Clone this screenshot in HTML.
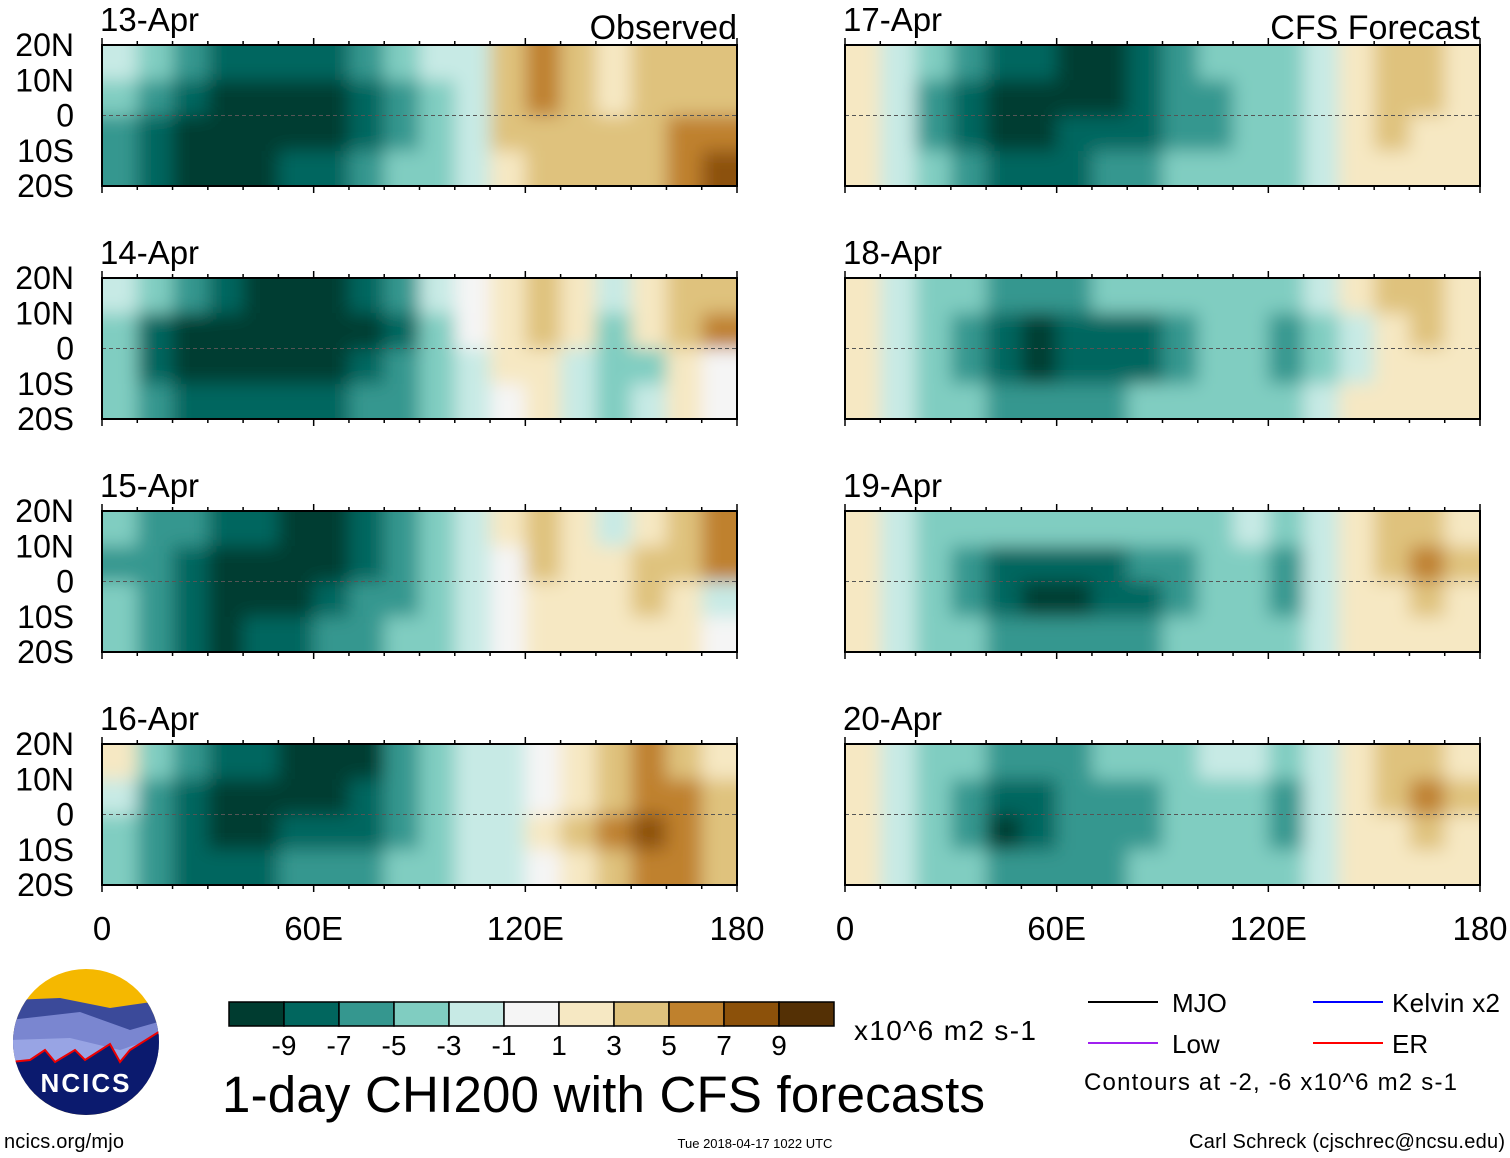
<!DOCTYPE html>
<html><head><meta charset="utf-8"><style>
html,body{margin:0;padding:0;background:#fff;}
svg{display:block;font-family:"Liberation Sans",Arial,sans-serif;}
</style></head><body>
<svg id="chart" width="1510" height="1158" viewBox="0 0 1510 1158" xmlns="http://www.w3.org/2000/svg">
<defs>
<filter id="blur" x="-10%" y="-30%" width="120%" height="160%"><feGaussianBlur stdDeviation="9"/></filter>
</defs>
<g id="panels"></g>

<g id="colorbar"></g>
<text x="854" y="1040" font-size="28" textLength="182">x10^6 m2 s-1</text>
<text x="222" y="1112" font-size="51" textLength="763">1-day CHI200 with CFS forecasts</text>

<g font-size="26">
<line x1="1088" y1="1002" x2="1158" y2="1002" stroke="#000" stroke-width="2"/>
<text x="1172" y="1012">MJO</text>
<line x1="1313" y1="1002" x2="1383" y2="1002" stroke="#0000ff" stroke-width="2"/>
<text x="1392" y="1012" textLength="108">Kelvin x2</text>
<line x1="1088" y1="1043" x2="1158" y2="1043" stroke="#a020f0" stroke-width="2"/>
<text x="1172" y="1053">Low</text>
<line x1="1313" y1="1043" x2="1383" y2="1043" stroke="#ff0000" stroke-width="2"/>
<text x="1392" y="1053">ER</text>
<text x="1084" y="1090" font-size="24" textLength="373">Contours at -2, -6 x10^6 m2 s-1</text>
</g>

<g>
<clipPath id="lc"><circle cx="86" cy="1042" r="73"/></clipPath>
<g clip-path="url(#lc)">
<rect x="10" y="965" width="155" height="160" fill="#f5b800"/>
<path d="M10 1000 L60 998 L110 1008 L165 1000 L165 1040 L10 1050Z" fill="#3b4a9a"/>
<path d="M10 1020 L80 1012 L130 1030 L165 1020 L165 1070 L10 1080Z" fill="#7a86d0"/>
<path d="M10 1040 L70 1038 L120 1050 L165 1035 L165 1090 L10 1090Z" fill="#98a4e4"/>
<path d="M10 1062 L30 1060 L45 1050 L55 1062 L75 1050 L85 1060 L110 1044 L120 1062 L130 1050 L165 1028 L165 1125 L10 1125Z" fill="#0b1a6e" stroke="#e00" stroke-width="2"/>
</g>
<text x="86" y="1092" font-size="26" font-weight="bold" fill="#fff" text-anchor="middle" letter-spacing="2">NCICS</text>
</g>

<text x="4" y="1148" font-size="20" textLength="120">ncics.org/mjo</text>
<text x="755" y="1148" font-size="13" text-anchor="middle">Tue 2018-04-17 1022 UTC</text>
<text x="1505" y="1148" font-size="20" text-anchor="end" textLength="316">Carl Schreck (cjschrec@ncsu.edu)</text>
</svg>
<script>
const dates = ["13-Apr","14-Apr","15-Apr","16-Apr","17-Apr","18-Apr","19-Apr","20-Apr"];
const latTicks = ["20N","10N","0","10S","20S"];
const lonTicks = ["0","60E","120E","180"];
const lonTickVals = [0,60,120,180];
const levelColors = ["#003c30","#01665e","#35978f","#80cdc1","#c7eae5","#f5f5f5","#f6e8c3","#dfc27d","#bf812d","#8c510a","#543005"];
const levelLabels = ["-9","-7","-5","-3","-1","1","3","5","7","9"];
// field values: per panel 4 lat bands (20N-10N,10N-0,0-10S,10S-20S) x 18 lon bins of 10 deg
const f13 = [[-1,-3,-5,-7,-7,-7,-7,-5,-3,-1,-1,2,4,3,1,2,2,2],[-3,-5,-7,-9,-9,-9,-9,-7,-5,-3,-1,2,4,2,1,2,3,3],[-5,-7,-9,-9,-9,-9,-9,-7,-5,-3,-1,2,3,2,2,3,5,5],[-5,-7,-9,-9,-9,-7,-7,-5,-3,-3,-1,1,2,2,2,3,5,7]];
const f14 = [[-1,-3,-5,-7,-9,-9,-9,-7,-5,-1,0,1,3,1,-1,1,3,3],[-3,-7,-9,-9,-9,-9,-9,-9,-7,-3,0,1,2,1,-3,1,3,5],[-3,-7,-9,-9,-9,-9,-9,-7,-5,-3,-1,1,1,-1,-3,-3,1,0],[-3,-5,-7,-7,-7,-7,-7,-5,-5,-3,-1,0,1,-1,-3,-1,1,0]];
const f15 = [[-3,-5,-5,-7,-7,-9,-9,-7,-5,-3,-1,1,3,1,-1,1,3,5],[-5,-5,-7,-9,-9,-9,-9,-7,-5,-3,-1,0,2,1,1,2,3,5],[-3,-5,-7,-9,-9,-9,-7,-5,-5,-3,-1,0,1,1,1,2,1,-1],[-3,-5,-7,-9,-7,-7,-5,-5,-3,-3,-1,0,1,1,1,1,1,0]];
const f16 = [[1,-3,-5,-7,-7,-9,-9,-9,-5,-3,-1,-1,0,1,3,5,3,1],[-1,-5,-7,-9,-9,-9,-9,-7,-5,-3,-1,-1,0,1,3,5,5,3],[-3,-5,-7,-9,-9,-7,-7,-7,-5,-3,-1,-1,1,3,5,7,5,3],[-3,-5,-7,-7,-7,-5,-5,-5,-3,-3,-1,-1,0,1,3,5,5,3]];
const f17 = [[1,-1,-3,-5,-7,-7,-9,-9,-7,-5,-3,-3,-3,-1,1,3,3,1],[1,-1,-5,-7,-9,-9,-9,-9,-7,-5,-5,-3,-3,-1,1,3,3,1],[1,-1,-5,-7,-9,-9,-7,-7,-7,-5,-5,-3,-3,-1,1,3,1,1],[1,-1,-3,-5,-7,-7,-7,-5,-5,-3,-3,-3,-3,-1,1,1,1,1]];
const f18 = [[1,-1,-3,-3,-5,-5,-5,-3,-3,-3,-3,-3,-3,-1,1,3,3,1],[1,-1,-3,-5,-7,-9,-7,-7,-7,-5,-3,-3,-5,-3,-1,1,3,1],[1,-1,-3,-5,-7,-9,-7,-7,-7,-5,-3,-3,-5,-3,-1,1,1,1],[1,-1,-3,-3,-5,-5,-5,-5,-3,-3,-3,-3,-3,-1,1,1,1,1]];
const f19 = [[1,-1,-3,-3,-3,-3,-3,-3,-3,-3,-3,-1,-3,-1,1,3,3,1],[1,-1,-3,-5,-7,-7,-7,-7,-5,-5,-3,-3,-5,-1,1,3,5,3],[1,-1,-3,-5,-7,-9,-9,-7,-7,-5,-3,-3,-5,-1,1,1,3,1],[1,-1,-3,-3,-5,-5,-5,-5,-5,-3,-3,-3,-3,-1,1,1,1,1]];
const f20 = [[1,-1,-3,-3,-5,-5,-5,-3,-3,-3,-1,-1,-3,-1,1,3,3,1],[1,-1,-3,-5,-7,-7,-5,-5,-5,-3,-3,-3,-5,-1,1,3,5,3],[1,-1,-3,-5,-9,-7,-5,-5,-5,-3,-3,-3,-5,-1,1,1,3,1],[1,-1,-3,-3,-5,-5,-5,-5,-3,-3,-3,-3,-3,-1,1,1,1,1]];
const fields = [f13,f14,f15,f16,f17,f18,f19,f20];

const NS="http://www.w3.org/2000/svg";
const PW=635, PH=141;
function panelOrigin(i){ return {x: i<4?102:845, y: 45 + (i%4)*233}; }
function xScale(lon){ return lon/180*PW; }
function yScale(lat){ return (20-lat)/40*PH; }
function colorFor(v){ let i = v<0 ? Math.round((v+9)/2) : (v===0?5:Math.round((v+11)/2)); i=Math.max(0,Math.min(10,i)); return levelColors[i]; }
function mk(tag, attrs, parent){ const e=document.createElementNS(NS,tag); for(const k in attrs) e.setAttribute(k,attrs[k]); parent.appendChild(e); return e; }

const root=document.getElementById('panels');
fields.forEach((field,pi)=>{
  const o=panelOrigin(pi);
  const g=mk('g',{transform:`translate(${o.x},${o.y})`},root);
  
  
  const cp=mk('clipPath',{id:'cp'+pi},g); mk('rect',{x:0,y:0,width:PW,height:PH},cp);
  const cg=mk('g',{'clip-path':`url(#cp${pi})`},g);
  const bg=mk('g',{filter:'url(#blur)'},cg);
  field.forEach((row,ri)=>{
    row.forEach((v,ci)=>{
      let x0=xScale(ci*10), x1=xScale(ci*10+10), y0=yScale(20-ri*10), y1=yScale(10-ri*10);
      if(ci===0) x0-=30; if(ci===row.length-1) x1+=30;
      if(ri===0) y0-=30; if(ri===field.length-1) y1+=30;
      const r=mk('rect',{x:x0,y:y0,width:x1-x0+0.5,height:y1-y0+0.5,fill:colorFor(v)},bg);
      
      
    });
  });
  const eq=mk('line',{x1:0,y1:yScale(0),x2:PW,y2:yScale(0),stroke:'#555','stroke-dasharray':'4 3','stroke-width':1},g);
  
  
  const fr=mk('rect',{x:0,y:0,width:PW,height:PH,fill:'none',stroke:'#000','stroke-width':2},g);
  
  
  for(let lon=0;lon<=180;lon+=10){
    const len = lon%60===0?7:4;
    mk('line',{x1:xScale(lon),y1:PH,x2:xScale(lon),y2:PH+len,stroke:'#000','stroke-width':1.5},g);
    mk('line',{x1:xScale(lon),y1:0,x2:xScale(lon),y2:-len,stroke:'#000','stroke-width':1.5},g);
  }
  const t=mk('text',{x:-2,y:-14,'font-size':33},g); t.textContent=dates[pi];
  
  
  if(pi===0||pi===4){
    const h=mk('text',{x:PW,y:-6,'font-size':34,'text-anchor':'end'},g); h.textContent= pi===0?'Observed':'CFS Forecast';
    
    
  }
  if(pi<4){
    latTicks.forEach((lb,li)=>{
      const tt=mk('text',{x:-28,y:yScale(20-li*10)+11,'font-size':32,'text-anchor':'end'},g); tt.textContent=lb;
      
      
    });
  }
  if(pi%4===3){
    lonTicks.forEach((lb,li)=>{
      const tt=mk('text',{x:xScale(lonTickVals[li]),y:PH+55,'font-size':33,'text-anchor':'middle'},g); tt.textContent=lb;
      
      
    });
  }
});

const cb=document.getElementById('colorbar');
const bw=55, bx=229, by=1002;
levelColors.forEach((c,i)=>{
  const r=mk('rect',{x:bx+i*bw,y:by,width:bw,height:24,fill:c,stroke:'#000','stroke-width':1.5},cb);
  
  
});
levelLabels.forEach((lb,i)=>{
  const t=mk('text',{x:bx+(i+1)*bw,y:1055,'font-size':28,'text-anchor':'middle'},cb); t.textContent=lb;
  
  
});
</script>
</body></html>
